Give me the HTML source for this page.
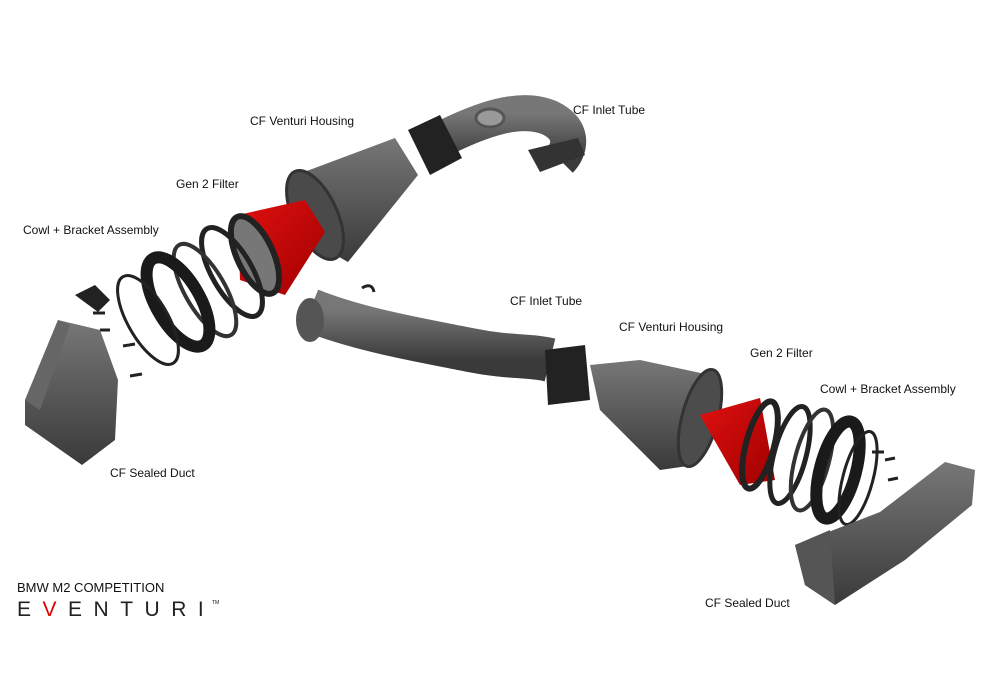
<!DOCTYPE html>
<html><head><meta charset="utf-8"><style>
html,body{margin:0;padding:0;background:#fff;}
svg{display:block}
text{font-family:"Liberation Sans",Arial,sans-serif;font-size:12px;fill:#111}
</style></head><body>
<svg width="1000" height="690" viewBox="0 0 1000 690" xmlns="http://www.w3.org/2000/svg">
<defs>
<linearGradient id="g" x1="0" y1="0" x2="0" y2="1"><stop offset="0" stop-color="#777"/><stop offset="1" stop-color="#3a3a3a"/></linearGradient>
<linearGradient id="r" x1="0" y1="0" x2="1" y2="1"><stop offset="0" stop-color="#e01010"/><stop offset="1" stop-color="#a00000"/></linearGradient>
</defs>
<path d="M440,140 C480,120 520,105 550,118 C575,130 570,150 560,160" fill="none" stroke="url(#g)" stroke-width="36" stroke-linecap="butt"/>
<ellipse cx="490" cy="118" rx="14" ry="9" fill="#999" stroke="#555" stroke-width="3"/>
<polygon points="528,150 578,138 585,155 540,172" fill="#333"/>
<polygon points="408,130 440,115 462,158 430,175" fill="#222"/>
<polygon points="288,178 395,138 418,175 348,262 300,235" fill="url(#g)"/>
<ellipse cx="315" cy="215" rx="22" ry="48" transform="rotate(-25 315 215)" fill="#4a4a4a" stroke="#333" stroke-width="3"/>
<polygon points="238,215 305,200 325,232 285,295 240,280" fill="url(#r)"/>
<ellipse cx="255" cy="255" rx="18" ry="42" transform="rotate(-25 255 255)" fill="#777" stroke="#222" stroke-width="6"/>
<ellipse cx="232" cy="272" rx="20" ry="50" transform="rotate(-30 232 272)" fill="none" stroke="#222" stroke-width="5"/>
<ellipse cx="205" cy="290" rx="20" ry="52" transform="rotate(-30 205 290)" fill="none" stroke="#333" stroke-width="4"/>
<ellipse cx="178" cy="302" rx="22" ry="50" transform="rotate(-30 178 302)" fill="none" stroke="#1a1a1a" stroke-width="12"/>
<ellipse cx="148" cy="320" rx="20" ry="50" transform="rotate(-30 148 320)" fill="none" stroke="#222" stroke-width="3"/>
<path d="M75,295 L95,285 L110,300 L98,312 Z" fill="#222"/>
<g stroke="#222" stroke-width="3"><line x1="93" y1="313" x2="105" y2="313"/><line x1="123" y1="346" x2="135" y2="344"/><line x1="130" y1="376" x2="142" y2="374"/><line x1="100" y1="330" x2="110" y2="330"/></g>
<polygon points="25,400 58,320 100,330 118,380 115,440 82,465 25,425" fill="url(#g)"/>
<polygon points="25,400 58,320 70,325 40,410" fill="#666"/>
<path d="M310,310 C360,330 420,340 470,350 C510,358 530,355 550,360" fill="none" stroke="url(#g)" stroke-width="44"/>
<ellipse cx="310" cy="320" rx="14" ry="22" fill="#555"/>
<path d="M362,288 q10,-6 12,4" fill="none" stroke="#222" stroke-width="3"/>
<polygon points="545,350 585,345 590,400 548,405" fill="#222"/>
<polygon points="590,365 640,360 710,375 695,465 660,470 600,410" fill="url(#g)"/>
<ellipse cx="700" cy="418" rx="18" ry="50" transform="rotate(15 700 418)" fill="#4c4c4c" stroke="#333" stroke-width="3"/>
<polygon points="700,415 760,398 775,480 740,485" fill="url(#r)"/>
<ellipse cx="760" cy="445" rx="14" ry="45" transform="rotate(15 760 445)" fill="none" stroke="#222" stroke-width="6"/>
<ellipse cx="790" cy="455" rx="16" ry="50" transform="rotate(15 790 455)" fill="none" stroke="#222" stroke-width="5"/>
<ellipse cx="812" cy="460" rx="17" ry="52" transform="rotate(15 812 460)" fill="none" stroke="#333" stroke-width="4"/>
<ellipse cx="838" cy="470" rx="18" ry="50" transform="rotate(15 838 470)" fill="none" stroke="#1a1a1a" stroke-width="12"/>
<ellipse cx="858" cy="478" rx="15" ry="48" transform="rotate(15 858 478)" fill="none" stroke="#222" stroke-width="3"/>
<g stroke="#222" stroke-width="3"><line x1="872" y1="452" x2="884" y2="452"/><line x1="888" y1="480" x2="898" y2="478"/><line x1="885" y1="460" x2="895" y2="458"/></g>
<polygon points="795,545 880,512 945,462 975,470 972,505 905,560 835,605 805,585" fill="url(#g)"/>
<polygon points="795,545 830,530 835,605 805,585" fill="#555"/>
<text x="250" y="125">CF Venturi Housing</text>
<text x="573" y="114">CF Inlet Tube</text>
<text x="176" y="188">Gen 2 Filter</text>
<text x="23" y="234">Cowl + Bracket Assembly</text>
<text x="110" y="477">CF Sealed Duct</text>
<text x="510" y="305">CF Inlet Tube</text>
<text x="619" y="331">CF Venturi Housing</text>
<text x="750" y="357">Gen 2 Filter</text>
<text x="820" y="393">Cowl + Bracket Assembly</text>
<text x="705" y="607">CF Sealed Duct</text>
<text x="17" y="592" style="font-size:13px">BMW M2 COMPETITION</text>
<text x="17" y="616" style="font-size:21px;letter-spacing:11.5px;fill:#222">E<tspan fill="#d00">V</tspan>ENTURI</text>
<text x="212" y="604" style="font-size:5px">TM</text>
</svg>
</body></html>
